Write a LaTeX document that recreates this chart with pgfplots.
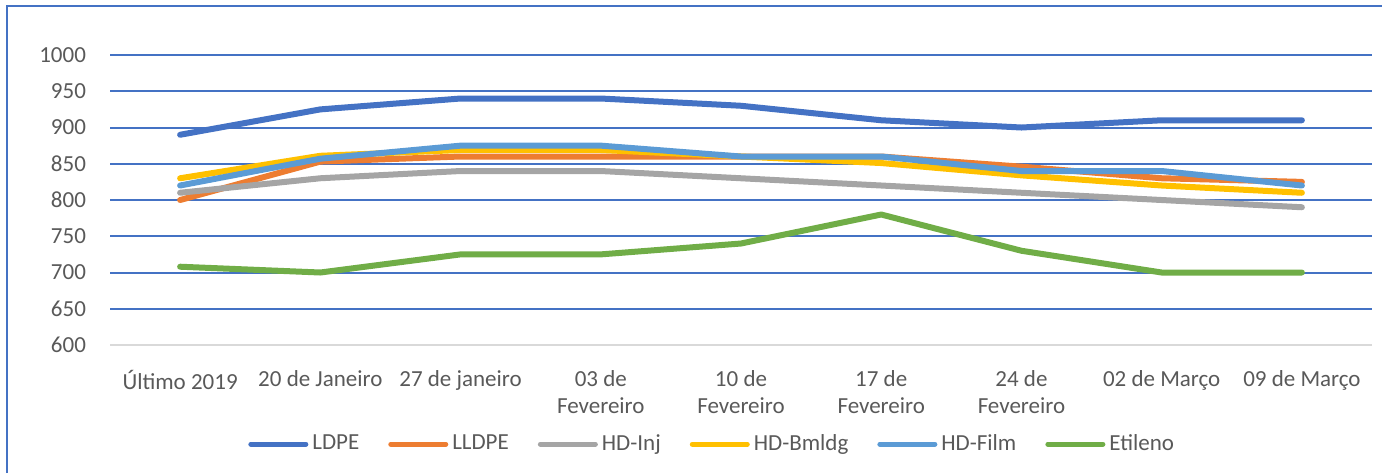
\documentclass[border=0pt]{standalone}
\usepackage{fontspec}
\setmainfont{Carlito}
\usepackage{pgfplots}
\pgfplotsset{compat=1.18}

\definecolor{cLDPE}{HTML}{4472C4}
\definecolor{cLLDPE}{HTML}{ED7D31}
\definecolor{cInj}{HTML}{A5A5A5}
\definecolor{cBm}{HTML}{FFC000}
\definecolor{cFilm}{HTML}{5B9BD5}
\definecolor{cEt}{HTML}{70AD47}
\definecolor{txt}{HTML}{595959}
\definecolor{gridblue}{HTML}{4472C4}

\begin{document}
\begin{tikzpicture}
\fontsize{11.5pt}{13.5pt}\selectfont
\path[use as bounding box] (0,0) rectangle (691pt,-236.5pt);
\draw[gridblue, line width=0.9pt] (3.5pt,-236.5pt) -- (3.5pt,-3pt) -- (691pt,-3pt);
\begin{axis}[
  at={(55pt,-172.5pt)}, anchor=south west,
  scale only axis, width=631pt, height=145pt,
  xmin=-0.5, xmax=8.5, ymin=600, ymax=1000,
  xtick={0,...,8},
  xticklabels={Último 2019, 20 de Janeiro, 27 de janeiro, 03 de\\Fevereiro, 10 de\\Fevereiro, 17 de\\Fevereiro, 24 de\\Fevereiro, 02 de Março, 09 de Março},
  ytick={600,650,...,1000},
  major tick length=0pt,
  axis line style={draw=none},
  xmajorgrids=false, ymajorgrids=true,
  major grid style={draw=gridblue, line width=1pt},
  tick label style={font=\fontsize{11.5pt}{13.5pt}\selectfont, text=txt},
  xticklabel style={align=center, yshift=-8.5pt},
  yticklabel style={xshift=-8pt, /pgf/number format/1000 sep={}},
  /pgf/number format/assume math mode=true,
  every axis plot/.append style={line width=3pt, line join=round, line cap=round, mark=none},
  legend image code/.code={\draw[#1, line width=2.5pt, line cap=round] (0pt,0pt) -- (27.5pt,0pt);},
  legend columns=-1,
  legend style={at={(0.478,-0.342)}, anchor=center, draw=none, fill=none,
    font=\fontsize{11.5pt}{13.5pt}\selectfont, text=txt,
    /tikz/every even column/.append style={column sep=12.5pt},
    inner sep=0pt},
]
\draw[draw=black!15, line width=1pt] (axis cs:-0.5,600) -- (axis cs:8.5,600);
\addplot[cLDPE] coordinates {(0,890) (1,925) (2,940) (3,940) (4,930) (5,910) (6,900) (7,910) (8,910)};
\addlegendentry{LDPE}
\addplot[cLLDPE] coordinates {(0,800) (1,853) (2,860) (3,860) (4,860) (5,860) (6,846) (7,830) (8,825)};
\addlegendentry{LLDPE}
\addplot[cInj] coordinates {(0,810) (1,830) (2,840) (3,840) (4,830) (5,820) (6,810) (7,800) (8,790)};
\addlegendentry{HD-Inj}
\addplot[cBm] coordinates {(0,830) (1,861) (2,869) (3,869) (4,860) (5,851) (6,834) (7,820) (8,810)};
\addlegendentry{HD-Bmldg}
\addplot[cFilm] coordinates {(0,820) (1,857) (2,875) (3,875) (4,860) (5,860) (6,840) (7,840) (8,820)};
\addlegendentry{HD-Film}
\addplot[cEt] coordinates {(0,708) (1,700) (2,725) (3,725) (4,740) (5,780) (6,730) (7,700) (8,700)};
\addlegendentry{Etileno}
\end{axis}
\end{tikzpicture}
\end{document}
